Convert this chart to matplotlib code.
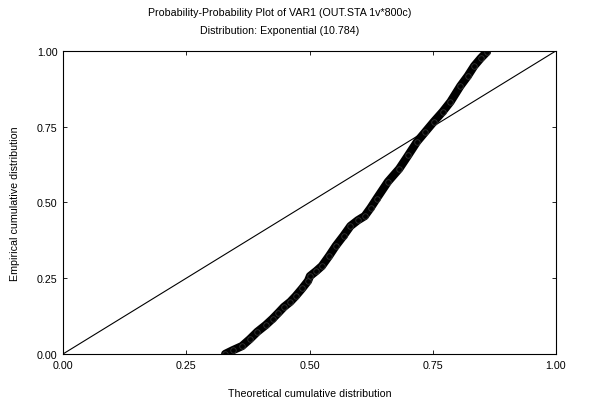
import matplotlib
matplotlib.use('Agg')
import matplotlib.pyplot as plt

# points (theoretical, empirical)
theoretical = [0.329, 0.344, 0.363, 0.379, 0.394, 0.411, 0.425, 0.437, 0.448,
               0.461, 0.472, 0.485, 0.497, 0.501, 0.514, 0.525, 0.540, 0.553,
               0.569, 0.583, 0.598, 0.612, 0.624, 0.636, 0.659, 0.682, 0.700,
               0.718, 0.735, 0.752, 0.770, 0.786, 0.806, 0.821, 0.834, 0.847,
               0.860]
empirical = [0.000, 0.012, 0.026, 0.049, 0.073, 0.095, 0.116, 0.136, 0.155,
             0.172, 0.191, 0.216, 0.241, 0.257, 0.274, 0.290, 0.324, 0.356,
             0.390, 0.422, 0.441, 0.455, 0.482, 0.512, 0.568, 0.611, 0.655,
             0.700, 0.733, 0.766, 0.799, 0.832, 0.884, 0.917, 0.950, 0.975,
             0.997]
ref_line = [0.0, 1.0]
ticks = [0.0, 0.25, 0.5, 0.75, 1.0]
tick_labels = ['0.00', '0.25', '0.50', '0.75', '1.00']

plt.rcParams['font.family'] = ['Liberation Sans', 'DejaVu Sans']
plt.rcParams['font.size'] = 7.7

fig = plt.figure(figsize=(5.99, 4.02), dpi=100)
ax = fig.add_axes([0.1052, 0.117, 0.823, 0.754])

ax.plot(ref_line, ref_line, color='black', lw=0.8)
ax.plot(theoretical, empirical, color='black', lw=6, solid_capstyle='round')
ax.plot(theoretical, empirical, 'o', mfc='none', mec='#333333', ms=4, mew=0.6)

ax.set_xlim(0, 1)
ax.set_ylim(0, 1)
ax.set_xticks(ticks)
ax.set_xticklabels(tick_labels)
ax.set_yticks(ticks)
ax.set_yticklabels(tick_labels)
ax.tick_params(direction='in', length=3, width=0.6, top=True, right=True,
               labelsize=7.7, pad=4)
for s in ax.spines.values():
    s.set_linewidth(0.8)

ax.set_xlabel('Theoretical cumulative distribution', fontsize=7.7, labelpad=13)
ax.set_ylabel('Empirical cumulative distribution', fontsize=7.7, labelpad=12)
ax.set_title('Probability-Probability Plot of VAR1 (OUT.STA 1v*800c)\n'
             'Distribution: Exponential (10.784)', fontsize=7.7, pad=13,
             linespacing=2.0, x=0.44)

fig.savefig('out.png', dpi=100)
